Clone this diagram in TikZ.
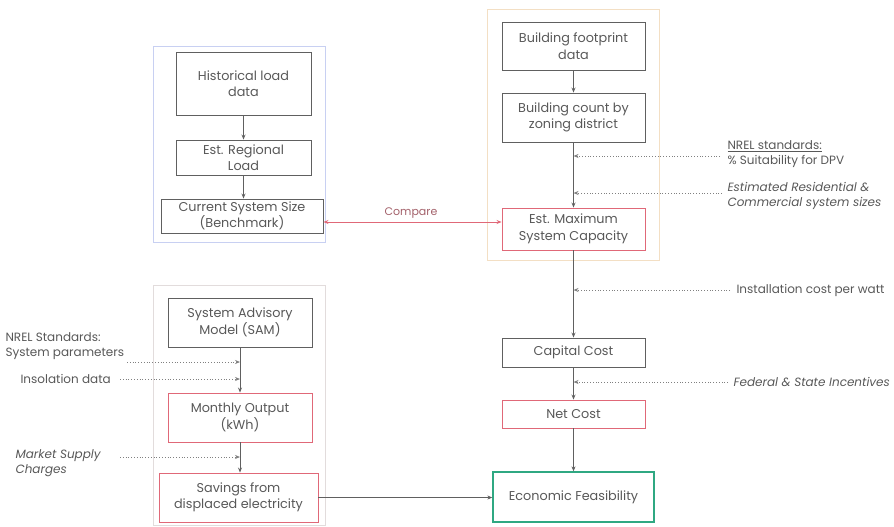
\documentclass[tikz,border=0pt]{standalone}
\usepackage{fontspec}
\setmainfont{Poppins}
\usetikzlibrary{arrows.meta}
\definecolor{txt}{HTML}{585858}
\definecolor{edge}{HTML}{606060}
\definecolor{redb}{HTML}{E06878}
\definecolor{greenb}{HTML}{2FA882}
\definecolor{gblue}{HTML}{C8D0F2}
\definecolor{gtan}{HTML}{F3DFC4}
\definecolor{ggray}{HTML}{E2DCDC}
\begin{document}
\begin{tikzpicture}[x=1pt,y=-1pt,
  every node/.style={font=\fontsize{12.8}{16.5}\selectfont, text=txt},
  box/.style={draw=edge, line width=0.9pt, align=center, inner sep=1pt},
  redbox/.style={box, draw=redb},
  greenbox/.style={box, draw=greenb, line width=1.3pt},
  grp/.style={line width=0.8pt},
  flow/.style={draw=edge, line width=0.8pt, -{Stealth[length=5pt,width=4pt]}},
  feed/.style={draw=edge!80, line width=0.8pt, dotted, -{Stealth[length=5pt,width=4pt]}},
  side/.style={anchor=west, align=left, font=\fontsize{12}{15}\selectfont},
  sideit/.style={side, font=\fontsize{12}{15}\selectfont\itshape}
]
\useasboundingbox (0,0) rectangle (894,527);
% groups
\draw[grp, draw=gblue] (153,46) rectangle (325,242);
\draw[grp, draw=gtan] (487,9) rectangle (659,260);
\draw[grp, draw=ggray] (153,285) rectangle (325,525);
% left top column
\node[box, minimum width=135, minimum height=63] (hist) at (243.5,83.5) {Historical load\\data};
\node[box, minimum width=135, minimum height=35] (reg) at (243.5,157.5) {Est. Regional\\Load};
\node[box, minimum width=162, minimum height=34] (csize) at (242,216) {Current System Size\\(Benchmark)};
% right column
\node[box, minimum width=143, minimum height=48] (bfoot) at (573.5,46) {Building footprint\\data};
\node[box, minimum width=143, minimum height=49] (bcount) at (573.5,117.5) {Building count by\\zoning district};
\node[redbox, minimum width=143, minimum height=42] (estmax) at (573.5,229) {Est. Maximum\\System Capacity};
\node[box, minimum width=143, minimum height=29] (capcost) at (573.5,352.5) {Capital Cost};
\node[redbox, minimum width=143, minimum height=28] (netcost) at (573.5,414) {Net Cost};
\node[greenbox, minimum width=161, minimum height=50] (econ) at (573.5,497) {Economic Feasibility};
% left bottom column
\node[box, minimum width=144, minimum height=49] (sam) at (240,322.5) {System Advisory\\Model (SAM)};
\node[redbox, minimum width=144, minimum height=49] (month) at (240,417.5) {Monthly Output\\(kWh)};
\node[redbox, minimum width=159, minimum height=49] (sav) at (238.5,497.5) {Savings from\\displaced electricity};
% side labels
\node[side] (nrel) at (724,154.5) {\underline{NREL standards:}\\\% Suitability for DPV};
\node[sideit] (estres) at (724,195.5) {Estimated Residential \&\\Commercial system sizes};
\node[side] (inst) at (733,290) {Installation cost per watt};
\node[sideit] (fed) at (730,382) {Federal \& State Incentives};
\node[side] (nrels) at (2,346) {NREL Standards:\\System parameters};
\node[side] (insol) at (17,379) {Insolation data};
\node[sideit] (market) at (12,463) {Market Supply\\Charges};
\node[font=\fontsize{11}{13}\selectfont, text=redb!55!txt] (cmp) at (411,213) {Compare};
% main flow
\draw[flow] (hist.south) -- (reg.north);
\draw[flow] (reg.south) -- (reg.south |- csize.north);
\draw[flow] (bfoot) -- (bcount);
\draw[flow] (bcount) -- (estmax);
\draw[flow] (estmax) -- (capcost);
\draw[flow] (capcost) -- (netcost);
\draw[flow] (netcost) -- (econ);
\draw[flow] (sam) -- (month);
\draw[flow] (month.south) -- (month.south |- sav.north);
\draw[flow] (sav) -- (sav -| econ.west);
\draw[draw=redb, line width=0.8pt, {Stealth[length=5pt,width=4pt]}-{Stealth[length=5pt,width=4pt]}]
  (csize.east |- 0,222) -- (estmax.west |- 0,222);
% feed-in coordinates
\coordinate (f1) at (720,156);
\coordinate (f2) at (722,193);
\coordinate (f3) at (730,290);
\coordinate (f4) at (728,382);
\coordinate (f5) at (127,362);
\coordinate (f6) at (120,379);
\coordinate (f7) at (120,457);
\draw[feed] (f1) -- (f1 -| bcount.south);
\draw[feed] (f2) -- (f2 -| bcount.south);
\draw[feed] (f3) -- (f3 -| estmax.south);
\draw[feed] (f4) -- (f4 -| capcost.south);
\draw[feed] (f5) -- (f5 -| sam.south);
\draw[feed] (f6) -- (f6 -| sam.south);
\draw[feed] (f7) -- (f7 -| month.south);
\end{tikzpicture}
\end{document}
